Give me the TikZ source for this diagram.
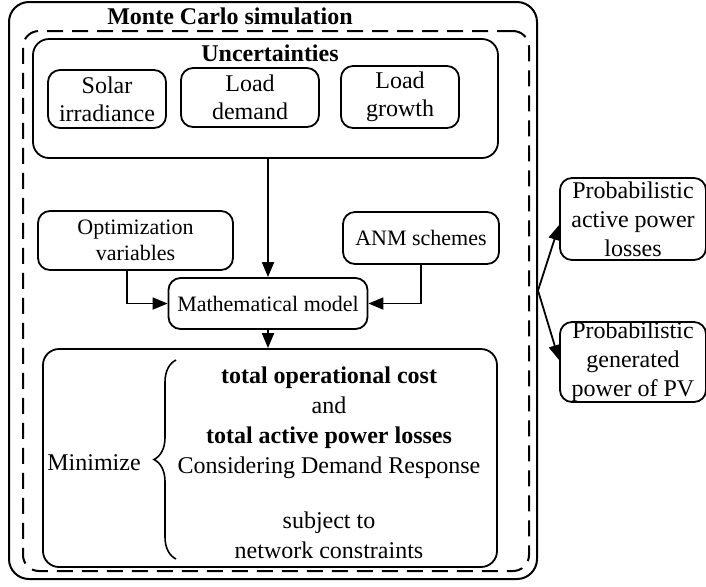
\documentclass[tikz,border=0pt]{standalone}
\usepackage{fontspec}
\setmainfont{Liberation Serif}
\usetikzlibrary{arrows.meta,decorations.pathreplacing,calc}

\tikzset{
  unit/.style={draw, line width=0.9pt, rounded corners=6pt, align=center,
    inner sep=0pt, font=\fontsize{12}{14}\selectfont},
  midunit/.style={unit, font=\fontsize{11}{13}\selectfont},
  sideunit/.style={unit, font=\fontsize{12}{14.5}\selectfont},
  arr/.style={-{Triangle[length=7.5pt,width=6pt]}, line width=0.9pt},
  plain12/.style={inner sep=0pt, font=\fontsize{12}{14}\selectfont}
}

\begin{document}
\begin{tikzpicture}[x=0.5pt,y=-0.5pt]
\useasboundingbox (0,0) rectangle (706,586);

% outer Monte Carlo frame and dashed inner frame
\node[draw, line width=1pt, rounded corners=10pt, minimum width=264pt,
      minimum height=288.5pt, inner sep=0pt] (mc) at (273,290.5) {};
\node[draw, line width=1pt, dash pattern=on 8pt off 4.5pt, rounded corners=8pt,
      minimum width=253pt, minimum height=270pt, inner sep=0pt] (loop) at (276,301) {};
\node[plain12, font=\fontsize{12}{14}\selectfont\bfseries] (title) at (230,16) {Monte Carlo simulation};

% uncertainties
\node[unit, rounded corners=8pt, minimum width=232.5pt, minimum height=59.5pt] (unc) at (265.5,98.5) {};
\node[plain12, font=\fontsize{12}{14}\selectfont\bfseries] (unctitle) at (270,53) {Uncertainties};
\node[unit, minimum width=59pt, minimum height=29pt] (solar) at (107,99) {Solar\\irradiance};
\node[unit, minimum width=69pt, minimum height=29.5pt] (loadd) at (250,97.5) {Load\\demand};
\node[unit, minimum width=59pt, minimum height=31pt] (loadg) at (400,97) {Load\\growth};

% model inputs
\node[midunit, minimum width=97.5pt, minimum height=29.5pt] (opt) at (135.5,240.5) {Optimization\\variables};
\node[midunit, minimum width=78pt, minimum height=26pt] (anm) at (421,238) {ANM schemes};
\node[midunit, minimum width=99.5pt, minimum height=25.5pt] (math) at (268,303.5) {Mathematical model};

% optimisation problem
\node[unit, rounded corners=8pt, minimum width=227pt, minimum height=109pt] (prob) at (270,458) {};
\node[plain12] (minimize) at (94,463) {Minimize};
\node[plain12, align=center, font=\fontsize{12}{15}\selectfont] (obj) at (329,463) {%
  \textbf{total operational cost}\\
  and\\
  \textbf{total active power losses}\\
  Considering Demand Response\\[12.5pt]
  subject to\\
  network constraints};
\draw[line width=0.8pt, decorate, decoration={brace, amplitude=11pt}]
  (176,559) -- (176,360);

% outputs
\node[sideunit, minimum width=73pt, minimum height=41pt] (lossout) at (633,219) {Probabilistic\\active power\\losses};
\node[sideunit, minimum width=73pt, minimum height=40pt] (pvout) at (633,362) {Probabilistic\\generated\\power of PV};

% connectors
\draw[arr] (unc.south -| math) -- (math.north);
\draw[arr] ([xshift=-4.25pt]opt.south) |- (math.west);
\draw[arr] (anm.south) |- (math.east);
\draw[arr] (math.south) -- (prob.north -| math);
\draw[arr] (mc.east) -- ([yshift=-3pt]lossout.west);
\draw[arr] (mc.east) -- ([yshift=1pt]pvout.west);
\end{tikzpicture}
\end{document}
